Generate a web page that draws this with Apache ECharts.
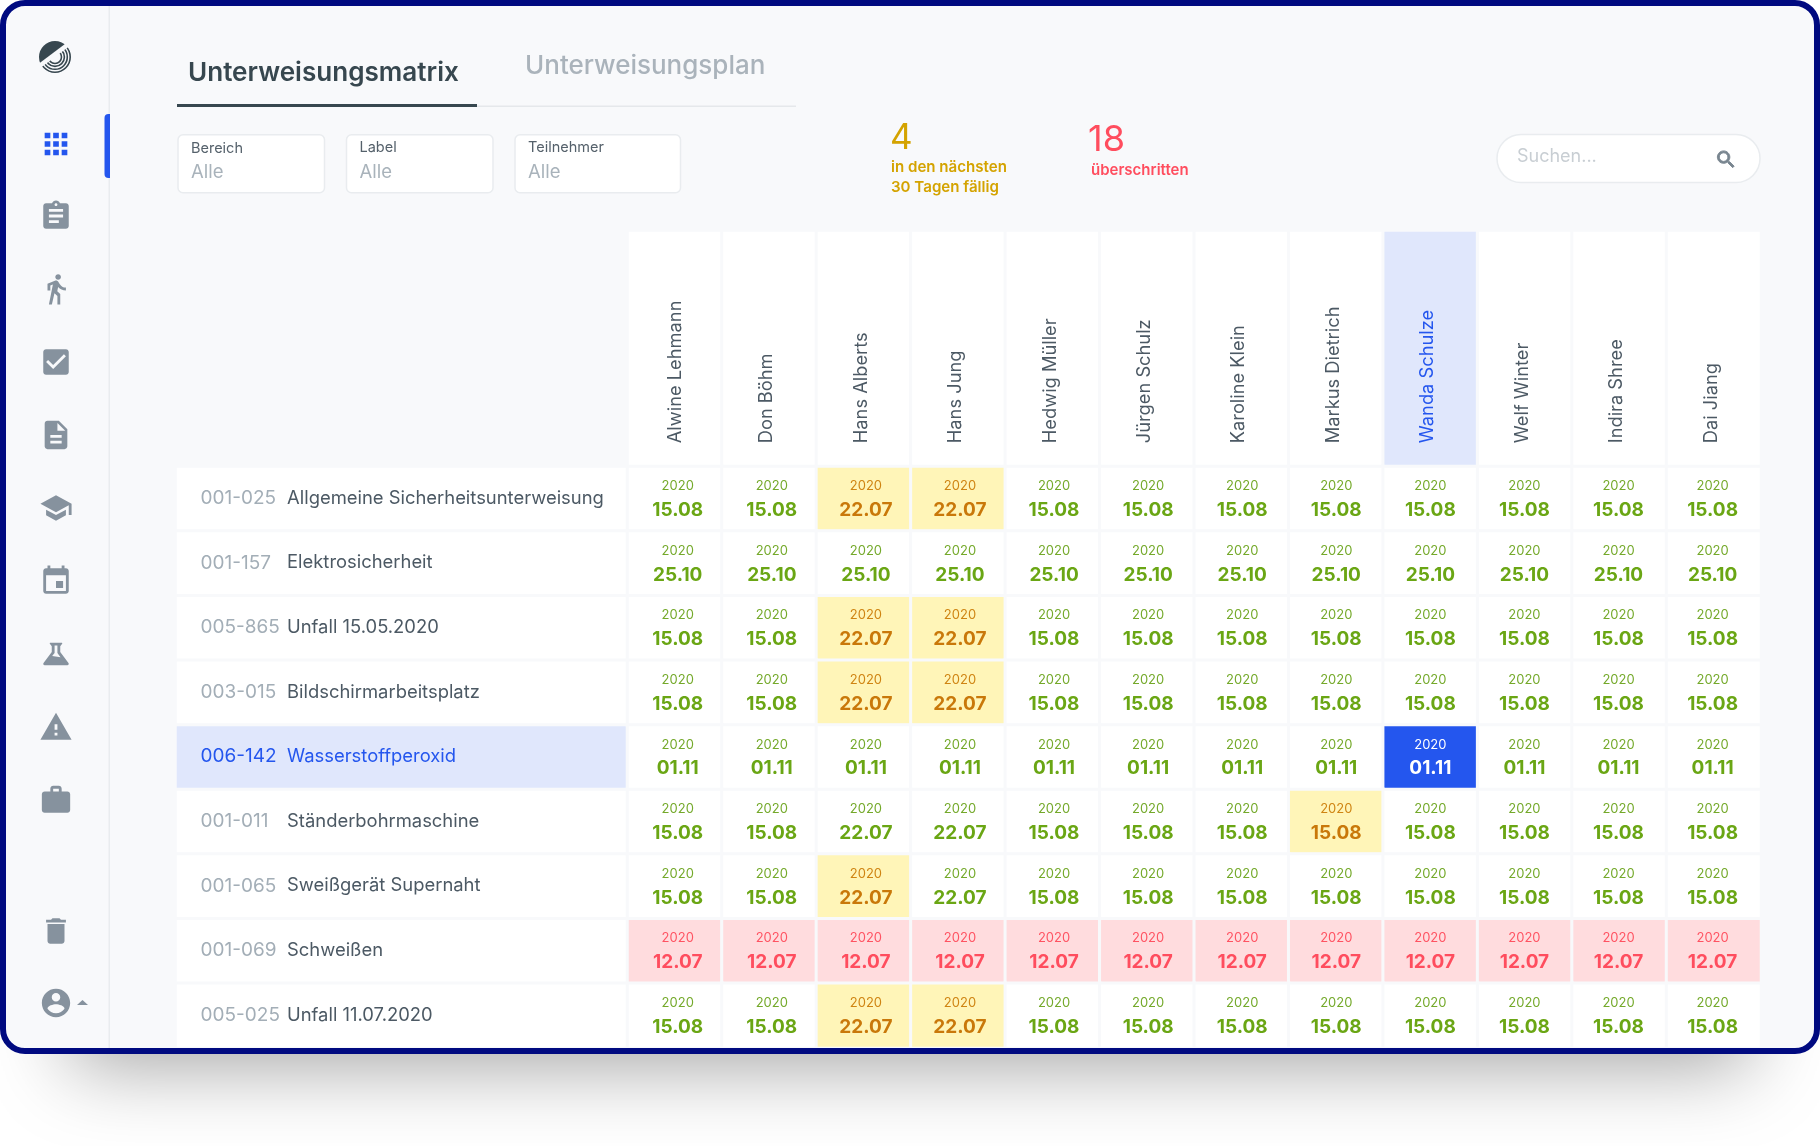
<!DOCTYPE html>
<html>
<head>
<meta charset="utf-8">
<title>Unterweisungsmatrix</title>
<script src="https://cdn.jsdelivr.net/npm/echarts@6/dist/echarts.min.js"></script>
<style>
  html, body { margin: 0; padding: 0; background: #fff; }
  #main { width: 1820px; height: 1146px; }
</style>
</head>
<body>
<div id="main"></div>
<script>
var participants = ['Alwine Lehmann', 'Don Böhm', 'Hans Alberts', 'Hans Jung', 'Hedwig Müller', 'Jürgen Schulz',
  'Karoline Klein', 'Markus Dietrich', 'Wanda Schulze', 'Welf Winter', 'Indira Shree', 'Dai Jiang'];
var courseIds = ['001-025', '001-157', '005-865', '003-015', '006-142', '001-011', '001-065', '001-069', '005-025'];
var courseNames = ['Allgemeine Sicherheitsunterweisung', 'Elektrosicherheit', 'Unfall 15.05.2020', 'Bildschirmarbeitsplatz',
  'Wasserstoffperoxid', 'Ständerbohrmaschine', 'Sweißgerät Supernaht', 'Schweißen', 'Unfall 11.07.2020'];
var dueYear = '2020';
var dueDates = [
  ['15.08', '15.08', '22.07', '22.07', '15.08', '15.08', '15.08', '15.08', '15.08', '15.08', '15.08', '15.08'],
  ['25.10', '25.10', '25.10', '25.10', '25.10', '25.10', '25.10', '25.10', '25.10', '25.10', '25.10', '25.10'],
  ['15.08', '15.08', '22.07', '22.07', '15.08', '15.08', '15.08', '15.08', '15.08', '15.08', '15.08', '15.08'],
  ['15.08', '15.08', '22.07', '22.07', '15.08', '15.08', '15.08', '15.08', '15.08', '15.08', '15.08', '15.08'],
  ['01.11', '01.11', '01.11', '01.11', '01.11', '01.11', '01.11', '01.11', '01.11', '01.11', '01.11', '01.11'],
  ['15.08', '15.08', '22.07', '22.07', '15.08', '15.08', '15.08', '15.08', '15.08', '15.08', '15.08', '15.08'],
  ['15.08', '15.08', '22.07', '22.07', '15.08', '15.08', '15.08', '15.08', '15.08', '15.08', '15.08', '15.08'],
  ['12.07', '12.07', '12.07', '12.07', '12.07', '12.07', '12.07', '12.07', '12.07', '12.07', '12.07', '12.07'],
  ['15.08', '15.08', '22.07', '22.07', '15.08', '15.08', '15.08', '15.08', '15.08', '15.08', '15.08', '15.08']
];
// o = ok, w = due soon, r = overdue, s = selected
var dueStates = [
  ['o', 'o', 'w', 'w', 'o', 'o', 'o', 'o', 'o', 'o', 'o', 'o'],
  ['o', 'o', 'o', 'o', 'o', 'o', 'o', 'o', 'o', 'o', 'o', 'o'],
  ['o', 'o', 'w', 'w', 'o', 'o', 'o', 'o', 'o', 'o', 'o', 'o'],
  ['o', 'o', 'w', 'w', 'o', 'o', 'o', 'o', 'o', 'o', 'o', 'o'],
  ['o', 'o', 'o', 'o', 'o', 'o', 'o', 'o', 's', 'o', 'o', 'o'],
  ['o', 'o', 'o', 'o', 'o', 'o', 'o', 'w', 'o', 'o', 'o', 'o'],
  ['o', 'o', 'w', 'o', 'o', 'o', 'o', 'o', 'o', 'o', 'o', 'o'],
  ['r', 'r', 'r', 'r', 'r', 'r', 'r', 'r', 'r', 'r', 'r', 'r'],
  ['o', 'o', 'w', 'w', 'o', 'o', 'o', 'o', 'o', 'o', 'o', 'o']
];
var selectedParticipant = 8;
var selectedCourse = 4;

const FONT = 'Inter';
const BG = '#f8f9fb';
const INK = '#37474f';
const BLUE = '#2456ee';
const BLUE_SOFT = '#e0e7fc';
const ICON_GREY = '#86929e';

const CELL_COLORS = {
  o: { bg: '#ffffff', year: '#74a92a', date: '#6aa614' },
  w: { bg: '#fff5b8', year: '#cf8412', date: '#c9780a' },
  r: { bg: '#ffdcde', year: '#ff5362', date: '#ff4d5e' },
  s: { bg: BLUE, year: '#ffffff', date: '#ffffff' }
};

// material icons, 24x24 viewbox
const ICONS = [
  ['M4 8h4V4H4v4zm6 12h4v-4h-4v4zm-6 0h4v-4H4v4zm0-6h4v-4H4v4zm6 0h4v-4h-4v4zm6-10v4h4V4h-4zm-6 4h4V4h-4v4zm6 6h4v-4h-4v4zm0 6h4v-4h-4v4z', 144, BLUE],
  ['M19 3h-4.18C14.4 1.84 13.3 1 12 1c-1.3 0-2.4.84-2.82 2H5c-1.1 0-2 .9-2 2v14c0 1.1.9 2 2 2h14c1.1 0 2-.9 2-2V5c0-1.1-.9-2-2-2zm-7 0c.55 0 1 .45 1 1s-.45 1-1 1-1-.45-1-1 .45-1 1-1zm2 14H7v-2h7v2zm3-4H7v-2h10v2zm0-4H7V7h10v2z', 216, ICON_GREY],
  ['M13.5 5.5c1.1 0 2-.9 2-2s-.9-2-2-2-2 .9-2 2 .9 2 2 2zM9.8 8.9L7 23h2.1l1.8-8 2.1 2v6h2v-7.5l-2.1-2 .6-3C14.8 12 16.8 13 19 13v-2c-1.9 0-3.5-1-4.3-2.4l-1-1.6c-.4-.6-1-1-1.7-1-.3 0-.5.1-.8.1L6 8.3V13h2V9.6l1.8-.7', 289, ICON_GREY],
  ['M19 3H5c-1.11 0-2 .9-2 2v14c0 1.1.89 2 2 2h14c1.11 0 2-.9 2-2V5c0-1.1-.89-2-2-2zm-9 14l-5-5 1.41-1.41L10 14.17l7.59-7.59L19 8l-9 9z', 362, ICON_GREY],
  ['M14 2H6c-1.1 0-1.99.9-1.99 2L4 20c0 1.1.89 2 1.99 2H18c1.1 0 2-.9 2-2V8l-6-6zm2 16H8v-2h8v2zm0-4H8v-2h8v2zm-3-5V3.5L18.5 9H13z', 435, ICON_GREY],
  ['M5 13.18v4L12 21l7-3.82v-4L12 17l-7-3.82zM12 3L1 9l11 6 9-4.91V17h2V9L12 3z', 508, ICON_GREY],
  ['M17 12h-5v5h5v-5zM16 1v2H8V1H6v2H5c-1.11 0-1.99.9-1.99 2L3 19c0 1.1.89 2 2 2h14c1.1 0 2-.9 2-2V5c0-1.1-.9-2-2-2h-1V1h-2zm3 18H5V8h14v11z', 581, ICON_GREY],
  ['M15.96 4H8.04C7.62 4 7.39 4.48 7.65 4.81L9 6.5v4.17L3.2 18.4C2.71 19.06 3.18 20 4 20h16c.82 0 1.29-.94.8-1.6L15 10.67V6.5l1.35-1.69C16.61 4.48 16.38 4 15.96 4zM11 6h2v5.33l2.2 2.97-5.9-.9L11 11.33z', 654, ICON_GREY],
  ['M1 21h22L12 2 1 21zm12-3h-2v-2h2v2zm0-4h-2v-4h2v4z', 727, ICON_GREY],
  ['M20 6h-4V4c0-1.11-.89-2-2-2h-4c-1.11 0-2 .89-2 2v2H4c-1.11 0-1.99.89-1.99 2L2 19c0 1.11.89 2 2 2h16c1.11 0 2-.89 2-2V8c0-1.11-.89-2-2-2zm-6 0h-4V4h4v2z', 800, ICON_GREY],
  ['M6 19c0 1.1.9 2 2 2h8c1.1 0 2-.9 2-2V7H6v12zM19 4h-3.5l-1-1h-5l-1 1H5v2h14V4z', 931, ICON_GREY],
  ['M12 2C6.48 2 2 6.48 2 12s4.48 10 10 10 10-4.48 10-10S17.52 2 12 2zm0 3c1.66 0 3 1.34 3 3s-1.34 3-3 3-3-1.34-3-3 1.34-3 3-3zm0 14.2c-2.5 0-4.71-1.28-6-3.22.03-1.99 4-3.08 6-3.08 1.99 0 5.97 1.09 6 3.08-1.29 1.94-3.5 3.22-6 3.22z', 1003, ICON_GREY]
];
const SEARCH_ICON = 'M15.5 14h-.79l-.28-.27C15.41 12.59 16 11.11 16 9.5 16 5.91 13.09 3 9.5 3S3 5.91 3 9.5 5.91 16 9.5 16c1.61 0 3.09-.59 4.23-1.57l.27.28v.79l5 4.99L20.49 19l-4.99-5zm-6 0C7.01 14 5 11.99 5 9.5S7.01 5 9.5 5 14 7.01 14 9.5 11.99 14 9.5 14z';
const LOGO_SVG = '<svg xmlns="http://www.w3.org/2000/svg" width="128" height="128" viewBox="0 0 32 32"><defs>' +
  '<clipPath id="a"><path d="M-4 25.5L32 -1.5V-4H-4z"/></clipPath>' +
  '<clipPath id="b"><path d="M-4 31L36 1V36H-4z"/></clipPath></defs>' +
  '<circle cx="16" cy="16" r="16" fill="#37474f" clip-path="url(#a)"/>' +
  '<g fill="none" stroke="#37474f" stroke-width="1.6" clip-path="url(#b)">' +
  '<circle cx="16" cy="16" r="15.2"/><circle cx="16" cy="16" r="12.3"/>' +
  '<circle cx="16" cy="16" r="9.4"/><circle cx="16" cy="16" r="6.5"/></g></svg>';

function svgUrl(svg) {
  return 'data:image/svg+xml;charset=utf-8,' + encodeURIComponent(svg);
}

function iconImage(d, color, cx, cy, size, strokeWidth) {
  var svg = '<svg xmlns="http://www.w3.org/2000/svg" width="96" height="96" viewBox="0 0 24 24"><path fill-rule="evenodd" fill="' + color + '"' +
    (strokeWidth ? ' stroke="' + color + '" stroke-width="' + strokeWidth + '"' : '') + ' d="' + d + '"/></svg>';
  return { type: 'image', z: 5, style: { image: svgUrl(svg), x: cx - size / 2, y: cy - size / 2, width: size, height: size } };
}

function text(str, x, y, size, color, weight) {
  return {
    type: 'text', z: 5,
    style: { text: str, x: x, y: y, fill: color, fontFamily: FONT, fontSize: size, fontWeight: weight || 400, verticalAlign: 'middle', align: 'left' }
  };
}

function filterBox(x, width, labelY, label) {
  return [
    { type: 'rect', z: 4, shape: { x: x, y: 134.7, width: width, height: 58, r: 5 }, style: { fill: '#fff', stroke: '#e9ecef', lineWidth: 1.5 } },
    text(label, x + 13, labelY, 14.5, '#55616b'),
    text('Alle', x + 13, 172, 18.5, '#a9b3bb')
  ];
}

function chromeElements() {
  var els = [
    // drop shadow under the window
    { type: 'rect', z: -3, shape: { x: 70, y: 800, width: 1680, height: 240 }, style: { fill: '#888', shadowBlur: 80, shadowOffsetY: 26, shadowColor: 'rgba(0,0,0,0.36)' } },
    { type: 'rect', z: -2, shape: { x: 3, y: 3, width: 1814, height: 1048, r: 22 }, style: { fill: BG } },
    { type: 'rect', z: 30, shape: { x: 3, y: 3, width: 1814, height: 1048, r: 22 }, style: { fill: 'none', stroke: '#000a80', lineWidth: 6 } },
    { type: 'rect', z: 4, shape: { x: 108.5, y: 6, width: 1.5, height: 1042 }, style: { fill: '#e9ecef' } },
    { type: 'rect', z: 5, shape: { x: 104.5, y: 114, width: 5.5, height: 64, r: [4, 0, 0, 4] }, style: { fill: BLUE } },
    { type: 'image', z: 5, style: { image: svgUrl(LOGO_SVG), x: 39, y: 41, width: 32, height: 32 } },
    // tabs
    text('Unterweisungsmatrix', 188, 73, 26.1, INK, 600),
    text('Unterweisungsplan', 525, 66, 26, '#aab3bb', 500),
    { type: 'rect', z: 4, shape: { x: 177, y: 105.5, width: 619, height: 1.5 }, style: { fill: '#e5e8eb' } },
    { type: 'rect', z: 5, shape: { x: 177, y: 104, width: 300, height: 3 }, style: { fill: INK } },
    // counters
    text('4', 890, 138, 35, '#d4a300', 400),
    text('in den nächsten', 891, 167, 15.1, '#d4a300', 600),
    text('30 Tagen fällig', 891, 187, 15.1, '#d4a300', 600),
    text('18', 1088, 140, 36, '#ff4d5e', 400),
    text('überschritten', 1091, 170, 15, '#ff4d5e', 600),
    // search
    { type: 'rect', z: 4, shape: { x: 1497, y: 134.5, width: 263, height: 48, r: 24 }, style: { fill: '#fff', stroke: '#e9ecef', lineWidth: 1.5 } },
    text('Suchen...', 1517, 157, 18, '#c8ced3'),
    iconImage(SEARCH_ICON, '#78858f', 1726, 159.5, 23, 1),
    // little caret next to the account icon
    { type: 'polygon', z: 5, shape: { points: [[77, 1005], [88, 1005], [82.5, 1000]] }, style: { fill: ICON_GREY } }
  ];
  els = els.concat(filterBox(178, 146.5, 149, 'Bereich'));
  els = els.concat(filterBox(346.5, 146.5, 148, 'Label'));
  els = els.concat(filterBox(515, 165.5, 148, 'Teilnehmer'));
  ICONS.forEach(function (ic) {
    els.push(iconImage(ic[0], ic[2], 56, ic[1], 34));
  });
  return els;
}

// matrix cells
var cellData = [];
dueDates.forEach(function (row, y) {
  row.forEach(function (date, x) {
    var c = CELL_COLORS[dueStates[y][x]];
    cellData.push({
      value: [x, y, 1],
      itemStyle: { color: c.bg },
      label: {
        // texts sit on a slightly tighter pitch than the cells
        offset: [3 - x * 0.38, -0.5],
        rich: {
          year: { fontFamily: FONT, fontSize: 13, lineHeight: 24, color: c.year },
          date: { fontFamily: FONT, fontSize: 19, lineHeight: 24, fontWeight: 700, color: c.date }
        }
      }
    });
  });
});

// course column, id + name
var courseData = courseIds.map(function (id, y) {
  var on = y === selectedCourse;
  return {
    value: [0, y, 1],
    itemStyle: { color: on ? BLUE_SOFT : '#fff' },
    label: { formatter: '{' + (on ? 'idOn' : 'id') + '|' + id + '}{' + (on ? 'nameOn' : 'name') + '|' + courseNames[y] + '}' }
  };
});

// names are series labels so they can sit a bit left of the cell centre
var headerData = participants.map(function (p, x) {
  return {
    value: [x, 0, 1],
    itemStyle: { color: x === selectedParticipant ? BLUE_SOFT : '#fff' },
    label: {
      formatter: p,
      color: x === selectedParticipant ? BLUE : '#4c5964',
      position: [x === 0 ? 49.3 : 46.5, 214.5]
    }
  };
});

var gridLeft = 627.5;
var gridWidth = 1133.5;
var cellBorder = { borderColor: BG, borderWidth: 3 };

var option = {
  animation: false,
  backgroundColor: '#fff',
  textStyle: { fontFamily: FONT },
  graphic: { elements: chromeElements() },
  grid: [
    { left: gridLeft, width: gridWidth, top: 230.5, height: 236 },
    { left: 175.5, width: 452, top: 466.5, height: 581.4 },
    { left: gridLeft, width: gridWidth, top: 466.5, height: 581.4 }
  ],
  xAxis: [
    { gridIndex: 0, type: 'category', data: participants, show: false },
    { gridIndex: 1, type: 'category', data: ['Kurs'], show: false },
    { gridIndex: 2, type: 'category', data: participants, show: false }
  ],
  yAxis: [
    { gridIndex: 0, type: 'category', data: ['Teilnehmer'], show: false },
    { gridIndex: 1, type: 'category', data: courseIds, inverse: true, show: false },
    { gridIndex: 2, type: 'category', data: courseIds, inverse: true, show: false }
  ],
  series: [
    {
      type: 'heatmap', xAxisIndex: 0, yAxisIndex: 0, data: headerData,
      itemStyle: cellBorder, emphasis: { disabled: true },
      label: { show: true, rotate: 90, align: 'left', verticalAlign: 'middle', fontFamily: FONT, fontSize: 18.3 }
    },
    {
      type: 'heatmap', xAxisIndex: 1, yAxisIndex: 1, data: courseData,
      itemStyle: cellBorder, emphasis: { disabled: true },
      label: {
        show: true, position: 'insideLeft', distance: 26.8, offset: [0, -0.5],
        rich: {
          id: { fontFamily: FONT, fontSize: 19, color: '#a3aeb7', width: 86.5, align: 'left' },
          name: { fontFamily: FONT, fontSize: 18.4, color: '#4c5964', align: 'left' },
          idOn: { fontFamily: FONT, fontSize: 19, color: BLUE, width: 86.5, align: 'left' },
          nameOn: { fontFamily: FONT, fontSize: 18.4, color: BLUE, align: 'left' }
        }
      }
    },
    {
      type: 'heatmap', xAxisIndex: 2, yAxisIndex: 2, data: cellData,
      itemStyle: cellBorder, emphasis: { disabled: true },
      label: {
        show: true,
        formatter: function (p) {
          return '{year|' + dueYear + '}\n{date|' + dueDates[p.value[1]][p.value[0]] + '}';
        }
      }
    }
  ]
};

var mainChart = echarts.init(document.getElementById('main'));
mainChart.setOption(option);
</script>
</body>
</html>
